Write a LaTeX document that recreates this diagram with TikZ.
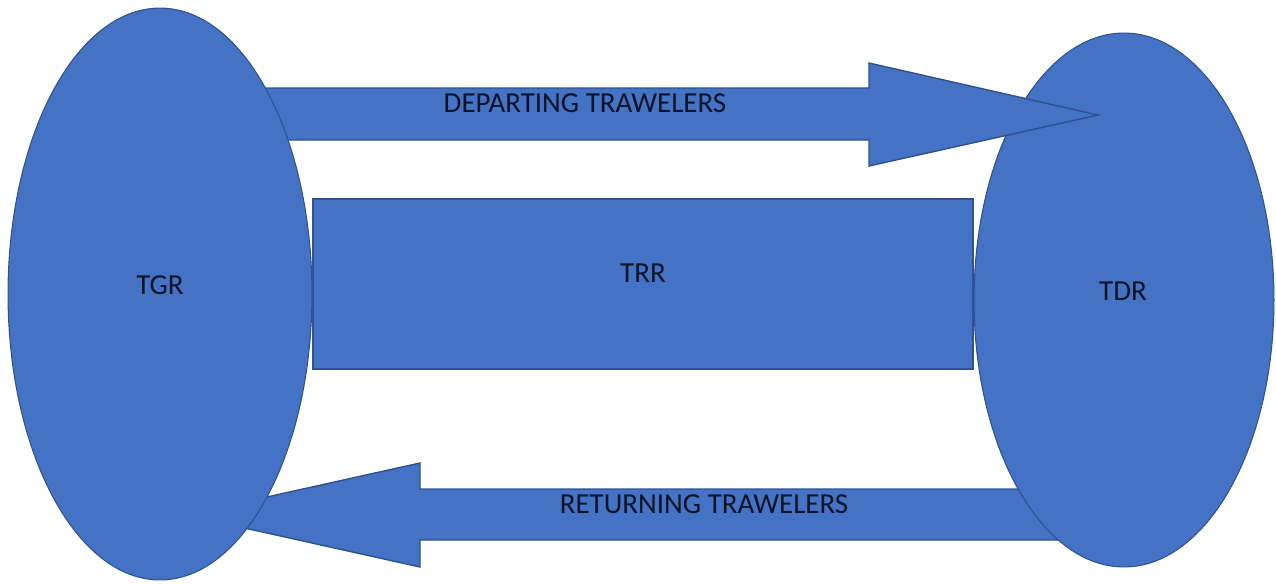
\documentclass[tikz,border=0pt]{standalone}
\usepackage{fontspec}
\setmainfont{Carlito}
\usetikzlibrary{shapes.geometric}

\definecolor{boxblue}{HTML}{4472C4}
\definecolor{edgeblue}{HTML}{2F528F}
\definecolor{inkblue}{HTML}{0A1426}

\begin{document}
\begin{tikzpicture}
          [x=0.02cm,y=-0.02cm,
          region/.style={ellipse,draw=edgeblue,fill=boxblue,line width=0.6pt,inner sep=0pt},
          route/.style={rectangle,draw=edgeblue,fill=boxblue,line width=0.9pt,inner sep=0pt,minimum width=13.2cm,minimum height=3.4cm},
          flow/.style={draw=edgeblue,fill=boxblue,line width=0.8pt,line join=miter},
          flowlabel/.style={text=inkblue,inner sep=0pt,font=\fontsize{16.5}{19}\selectfont}]
          \useasboundingbox (0,0) rectangle (1276,583);
          % returning flow goes under both regions
          \draw[flow] (1100,489) -- (420,489) -- (420,463) -- (186,515)
                      -- (420,567) -- (420,540) -- (1100,540) -- cycle;
          \node[region,minimum width=6cm,minimum height=10.68cm] (tdr) at (1124,300) {};
          \node[flowlabel] at (1123,291) {TDR};
          % departing flow lies over the destination region
          \draw[flow] (200,88) -- (869,88) -- (869,63) -- (1098,115)
                      -- (869,166) -- (869,140) -- (200,140) -- cycle;
          \node[region,minimum width=6.08cm,minimum height=11.44cm] (tgr) at (160,294) {};
          \node[flowlabel] at (160,285) {TGR};
          \node[route] (trr) at (643,284) {};
          \node[flowlabel] at (643,273) {TRR};
          \node[flowlabel] (departing) at (585,103) {DEPARTING TRAWELERS};
          \node[flowlabel] (returning) at (704,504) {RETURNING TRAWELERS};
        \end{tikzpicture}
\end{document}
